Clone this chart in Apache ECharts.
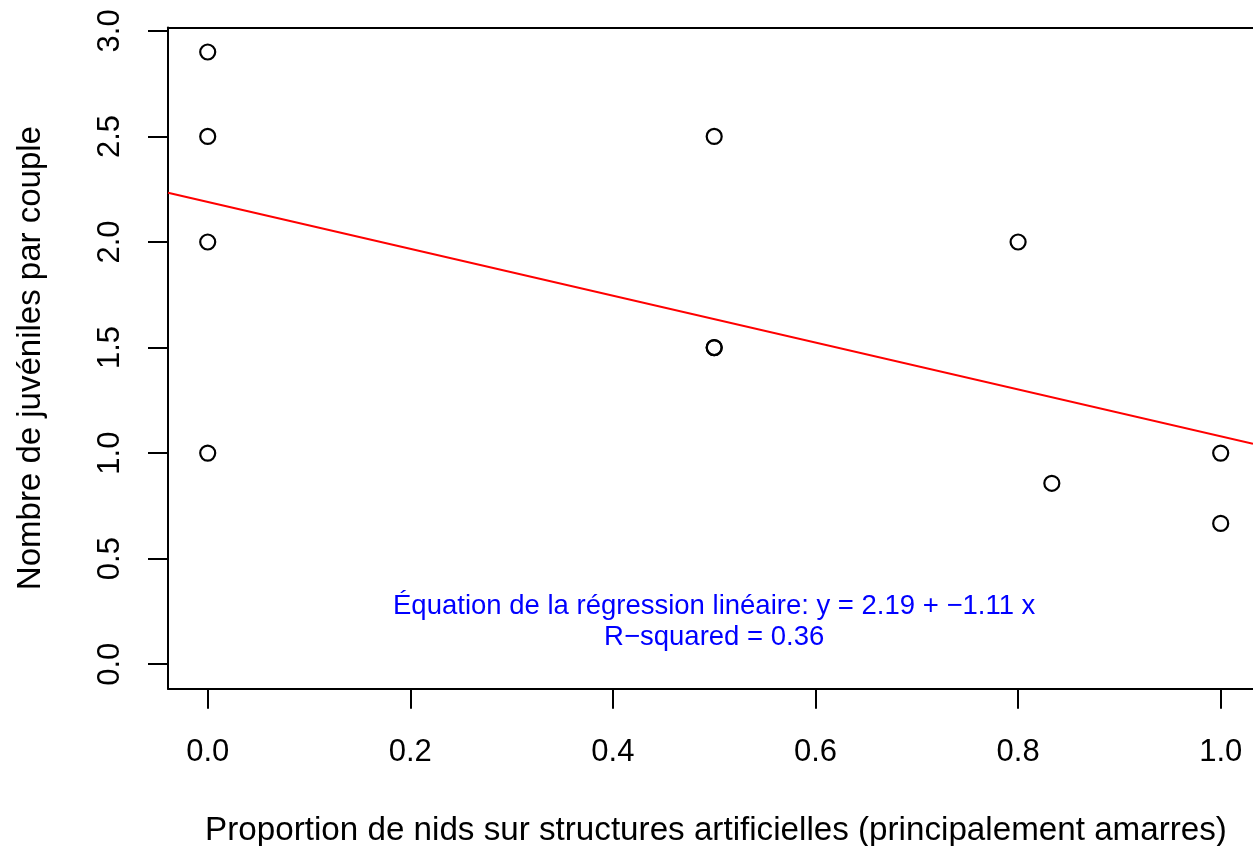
<!DOCTYPE html>
<html>
<head>
<meta charset="utf-8">
<script src="https://cdn.jsdelivr.net/npm/echarts@6/dist/echarts.min.js"></script>
<style>
html,body{margin:0;padding:0;background:#fff;}
#c{width:1253px;height:846px;}
</style>
</head>
<body>
<div id="c"></div>
<script>
// Data
const propArtificial = [0, 0, 0, 0, 0.5, 0.5, 0.5, 0.8, 0.8333, 1, 1];
const juvenilesPerPair = [2.9, 2.5, 2.0, 1.0, 2.5, 1.5, 1.5, 2.0, 0.857, 1.0, 0.667];
const xTicks = [0, 0.2, 0.4, 0.6, 0.8, 1.0];
const yTicks = [0, 0.5, 1.0, 1.5, 2.0, 2.5, 3.0];
const intercept = 2.19;
const slope = -1.11;
const rSquared = 0.36;
const xRange = [-0.0392, 1.0319];
const yRange = [-0.116, 3.016];
const annotationPos = [0.5, 0.199];

const points = propArtificial.map((x, i) => [x, juvenilesPerPair[i]]);
const fitLine = xRange.map(x => [x, intercept + slope * x]);
const fontFam = '"Liberation Sans", Arial, Helvetica, sans-serif';
const blackLine = { color: '#000', width: 2 };

const chart = echarts.init(document.getElementById('c'));
chart.setOption({
  animation: false,
  backgroundColor: '#fff',
  grid: { left: 168, right: 0, top: 27.5, bottom: 157.3, show: false, containLabel: false, outerBoundsMode: 'none' },
  xAxis: [
    {
      type: 'value', min: xRange[0], max: xRange[1], position: 'bottom',
      name: 'Proportion de nids sur structures artificielles (principalement amarres)',
      nameLocation: 'middle', nameGap: 126,
      nameTextStyle: { fontSize: 33.2, color: '#000', fontFamily: fontFam, padding: [0, 0, 0, 11] },
      axisLine: { show: true, onZero: false, lineStyle: blackLine },
      splitLine: { show: false },
      axisTick: { show: true, length: 20, inside: false, customValues: xTicks, lineStyle: blackLine },
      axisLabel: { show: true, customValues: xTicks, margin: 48, fontSize: 31, color: '#000', fontFamily: fontFam,
        formatter: v => v.toFixed(1) }
    },
    {
      type: 'value', min: xRange[0], max: xRange[1], position: 'top',
      axisLine: { show: true, onZero: false, lineStyle: blackLine },
      axisTick: { show: false }, axisLabel: { show: false }, splitLine: { show: false }
    }
  ],
  yAxis: {
    type: 'value', min: yRange[0], max: yRange[1],
    name: 'Nombre de juvéniles par couple',
    nameLocation: 'middle', nameGap: 121,
    nameTextStyle: { fontSize: 33, color: '#000', fontFamily: fontFam },
    axisLine: { show: true, onZero: false, lineStyle: blackLine },
    splitLine: { show: false },
    axisTick: { show: true, length: 20, inside: false, customValues: yTicks, lineStyle: blackLine },
    axisLabel: { show: true, customValues: yTicks, rotate: 90, margin: 42, fontSize: 31, color: '#000', fontFamily: fontFam,
      formatter: v => v.toFixed(1) }
  },
  series: [
    {
      type: 'line', data: fitLine, symbol: 'none', silent: true, clip: true,
      lineStyle: { color: '#ff0000', width: 2 }, z: 2
    },
    {
      type: 'scatter', data: points, symbol: 'circle', symbolSize: 15,
      itemStyle: { color: 'rgba(0,0,0,0)', borderColor: '#000', borderWidth: 2.2, opacity: 1 }, z: 3
    },
    {
      type: 'scatter', data: [annotationPos], symbolSize: 0, silent: true,
      itemStyle: { opacity: 1 },
      label: {
        show: true, position: 'inside', color: '#0000ff', fontSize: 27.5, lineHeight: 31,
        fontFamily: fontFam, align: 'center', verticalAlign: 'middle',
        formatter: () => 'Équation de la régression linéaire: y = ' + intercept.toFixed(2) + ' + \u2212' + Math.abs(slope).toFixed(2) + ' x\nR\u2212squared = ' + rSquared.toFixed(2)
      }
    }
  ]
});
</script>
</body>
</html>
